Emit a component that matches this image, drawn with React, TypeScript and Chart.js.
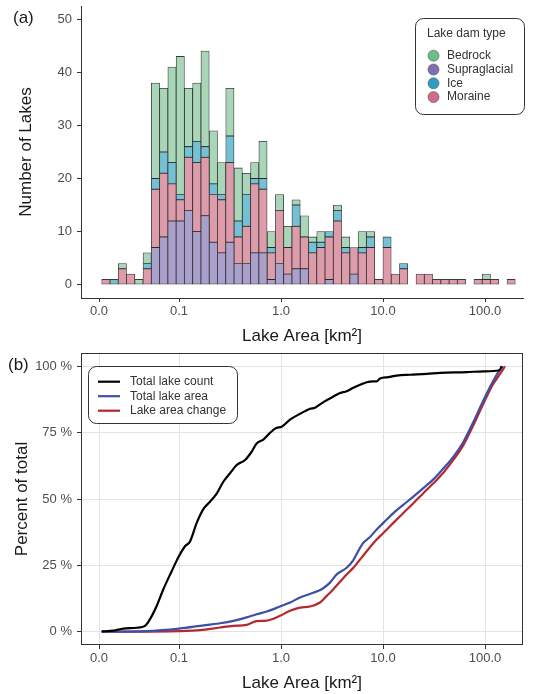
import React, { useEffect, useRef } from "react";
import { Chart, registerables } from "chart.js";

Chart.register(...registerables);

const FONT = "'Liberation Sans', Arial, Helvetica, sans-serif";

// ---------- Panel (a): histogram, 50 log-spaced bins (bin centres, km²) ----------
const binCenters = [
  0.01916, 0.0231, 0.02784, 0.03355, 0.04044, 0.04873, 0.05875, 0.07081, 0.08535, 0.1029,
  0.124, 0.1494, 0.1801, 0.2171, 0.2617, 0.3154, 0.3802, 0.4582, 0.5523, 0.6657,
  0.8024, 0.9672, 1.1657, 1.4051, 1.6935, 2.0412, 2.4604, 2.9653, 3.5745, 4.3082,
  5.1929, 6.2589, 7.5442, 9.093, 10.959, 13.21, 15.922, 19.19, 23.131, 27.88,
  33.604, 40.503, 48.818, 58.841, 70.925, 85.485, 103.04, 124.19, 149.69, 180.43,
];
const supraglacial = [
  0, 0, 0, 0, 0, 0, 7, 9, 12, 12, 14, 10, 13, 8, 6, 8, 4, 4, 6, 6,
  1, 4, 2, 3, 3, 0, 0, 1, 0, 0, 2, 0, 0, 0, 0, 0, 0, 0, 0, 0,
  0, 0, 0, 0, 0, 0, 0, 0, 0, 0,
];
const moraine = [
  1, 0, 3, 2, 0, 3, 11, 12, 7, 4, 10, 13, 11, 9, 10, 15, 5, 7, 13, 12,
  5, 10, 5, 8, 6, 6, 7, 8, 12, 6, 5, 6, 7, 1, 7, 2, 3, 0, 2, 2,
  1, 1, 1, 1, 0, 1, 1, 1, 0, 1,
];
const ice = [
  0, 1, 0, 0, 0, 1, 2, 4, 4, 1, 2, 4, 2, 2, 1, 5, 3, 6, 1, 2,
  1, 0, 0, 4, 0, 2, 1, 1, 2, 1, 0, 1, 2, 0, 2, 0, 1, 0, 0, 0,
  0, 0, 0, 0, 0, 0, 0, 0, 0, 0,
];
const bedrock = [
  0, 0, 1, 0, 1, 2, 18, 12, 18, 26, 11, 11, 18, 10, 6, 9, 10, 4, 3, 7,
  3, 3, 4, 1, 4, 1, 2, 0, 1, 2, 0, 3, 1, 0, 0, 0, 0, 0, 0, 0,
  0, 0, 0, 0, 0, 0, 1, 0, 0, 0,
];
const countTicks = [0, 10, 20, 30, 40, 50];

// ---------- Panel (b): cumulative curves ----------
const countX = [
  0.01745, 0.02271, 0.02846, 0.03846, 0.04642, 0.05004, 0.06039, 0.07021, 0.08475, 0.1,
  0.1145, 0.1282, 0.149, 0.1732, 0.2013, 0.2341, 0.272, 0.3162, 0.3676, 0.4437,
  0.5158, 0.5772, 0.6711, 0.7802, 0.9069, 1.015, 1.225, 1.536, 1.925, 2.154,
  2.6, 3.26, 3.788, 4.404, 5.12, 5.951, 6.918, 8.037, 8.667, 9.346,
  11.28, 13.61, 18.4, 26.8, 36.22, 66.12, 96.31, 138.2, 145.7,
];
const countPct = [
  0.1, 0.4, 1.2, 1.5, 2.2, 3.7, 9.7, 16, 22.8, 28.5,
  32.2, 34, 41, 46.2, 49, 52, 56.5, 59.7, 62.8, 64.7,
  67.8, 70.9, 72.4, 74.9, 76.8, 77.2, 79.9, 82.1, 84, 84.4,
  86.5, 88.6, 89.9, 90.6, 91.9, 93, 94, 94.3, 94.3, 95.4,
  95.9, 96.5, 96.8, 97.1, 97.5, 97.8, 98.1, 98.5, 100,
];
const areaX = [
  0.01745, 0.04819, 0.1, 0.1607, 0.2523, 0.341, 0.4607, 0.5772, 0.7236, 0.9777,
  1.225, 1.536, 2.075, 2.504, 3.023, 3.514, 4.404, 5.12, 5.951, 6.416,
  7.456, 8.667, 10.08, 12.63, 15.82, 19.84, 24.86, 31.15, 39.04, 48.92,
  61.33, 76.85, 96.31, 116.3, 135.1, 149.0,
];
const areaPct = [
  0, 0.25, 1.2, 2.2, 3.2, 4.1, 5.4, 6.6, 7.6, 9.5,
  11, 12.9, 14.7, 16, 18.5, 21.6, 24.1, 27, 31.6, 33.5,
  35.7, 38.5, 41, 44.7, 47.8, 50.9, 54.1, 57.4, 61.5, 65.9,
  71.5, 79, 87.1, 93.4, 97.8, 100,
];
const changeX = [
  0.01745, 0.1, 0.1607, 0.2523, 0.341, 0.4607, 0.5772, 0.7236, 0.9777, 1.225,
  1.536, 1.925, 2.412, 2.804, 3.26, 4.404, 5.12, 5.951, 6.918, 8.667,
  10.08, 12.63, 15.82, 19.84, 24.86, 31.15, 39.04, 48.92, 61.33, 76.85,
  96.31, 120.7, 140.3, 157.1,
];
const changePct = [
  0, 0.25, 0.6, 1.6, 2.2, 2.6, 4, 4.2, 6, 7.9,
  9.1, 9.5, 11, 13.5, 16, 21.6, 24.1, 27.2, 30.3, 34.7,
  37.2, 41, 44.7, 48.4, 52.2, 55.9, 59.9, 64.7, 70.3, 77.8,
  85.9, 93.4, 97.1, 100,
];
const pctTicks = [0, 25, 50, 75, 100];

// shared x axis ticks (km²) — first break sits at the data minimum, printed "0.0"
const areaTicks = [0.01644, 0.1, 1, 10, 100];
const X_MIN = 0.01094;
const X_MAX = 235.8;

const C = {
  bedrockFill: "#a9d5b8",
  supraFill: "#aaa0cc",
  iceFill: "#74c0d5",
  moraineFill: "#de9cab",
  bedrockDot: "#6dbd8c",
  supraDot: "#7c70b3",
  iceDot: "#2f9dc2",
  moraineDot: "#d06c86",
  axis: "#333333",
  tickText: "#4d4d4d",
  title: "#1a1a1a",
  grid: "#e3e3e3",
};

const nz = (arr: number[]) => arr.map((v, i) => ({ x: binCenters[i], y: v === 0 ? null : v }));
const pts = (xs: number[], ys: number[]) => xs.map((x, i) => ({ x, y: ys[i] }));

const xAxis = (showGrid: boolean) => ({
  type: "logarithmic" as const,
  min: X_MIN,
  max: X_MAX,
  offset: false,
  afterBuildTicks: (s: any) => {
    s.ticks = areaTicks.map((v) => ({ value: v }));
  },
  afterFit: (s: any) => {
    s.height = 49;
    s.paddingLeft = 0;
    s.paddingRight = 0;
  },
  ticks: {
    autoSkip: false,
    maxRotation: 0,
    padding: 2,
    color: C.tickText,
    font: { family: FONT, size: 13 },
    callback: (v: any) => (Number(v) < 0.05 ? "0.0" : Number(v).toFixed(1)),
  },
  grid: {
    display: true,
    drawOnChartArea: showGrid,
    offset: false,
    color: C.grid,
    tickColor: C.axis,
    tickLength: 4,
    lineWidth: 1,
  },
  border: { display: !showGrid, color: C.axis, width: 1 },
  title: {
    display: true,
    text: "Lake Area [km²]",
    color: C.title,
    font: { family: FONT, size: 17 },
    padding: { top: 0, bottom: 0 },
  },
});

const textPlugin = (label: string, lx: number, ly: number) => ({
  id: "panelLabel",
  afterDraw(chart: any) {
    const ctx = chart.ctx;
    ctx.save();
    ctx.fillStyle = "#1a1a1a";
    ctx.font = `17px ${FONT}`;
    ctx.textAlign = "left";
    ctx.textBaseline = "middle";
    ctx.fillText(label, lx, ly);
    ctx.restore();
  },
});

const legendA = {
  id: "legendA",
  afterDraw(chart: any) {
    const ctx = chart.ctx;
    ctx.save();
    ctx.beginPath();
    ctx.roundRect(415.5, 18.5, 109, 96, 8);
    ctx.fillStyle = "#ffffff";
    ctx.fill();
    ctx.strokeStyle = "#333333";
    ctx.lineWidth = 1;
    ctx.stroke();
    ctx.fillStyle = "#333333";
    ctx.font = `12px ${FONT}`;
    ctx.textBaseline = "middle";
    ctx.textAlign = "left";
    ctx.fillText("Lake dam type", 427, 33.5);
    const order = ["Bedrock", "Supraglacial", "Ice", "Moraine"];
    const rows = [55.7, 69.5, 83.3, 97.1];
    order.forEach((name, i) => {
      const ds = chart.data.datasets.find((d: any) => d.label === name);
      ctx.beginPath();
      ctx.arc(433.5, rows[i], 5.5, 0, Math.PI * 2);
      ctx.fillStyle = ds.dotColor;
      ctx.fill();
      ctx.strokeStyle = "#555";
      ctx.lineWidth = 0.6;
      ctx.stroke();
      ctx.fillStyle = "#333333";
      ctx.fillText(name, 447, rows[i]);
    });
    ctx.restore();
  },
};

const legendB = {
  id: "legendB",
  afterDraw(chart: any) {
    const ctx = chart.ctx;
    ctx.save();
    ctx.beginPath();
    ctx.roundRect(88.5, 19.5, 149, 57, 8);
    ctx.fillStyle = "#ffffff";
    ctx.fill();
    ctx.strokeStyle = "#333333";
    ctx.lineWidth = 1;
    ctx.stroke();
    const rows = [34.7, 49.2, 63.7];
    chart.data.datasets.forEach((ds: any, i: number) => {
      ctx.beginPath();
      ctx.moveTo(98, rows[i]);
      ctx.lineTo(120, rows[i]);
      ctx.strokeStyle = ds.borderColor;
      ctx.lineWidth = 2.2;
      ctx.stroke();
      ctx.fillStyle = "#333333";
      ctx.font = `12px ${FONT}`;
      ctx.textBaseline = "middle";
      ctx.textAlign = "left";
      ctx.fillText(ds.label, 130, rows[i]);
    });
    ctx.restore();
  },
};

const boxPlugin = {
  id: "boxB",
  afterDatasetsDraw(chart: any) {
    const { left, right, top, bottom } = chart.chartArea;
    const ctx = chart.ctx;
    ctx.save();
    ctx.strokeStyle = C.axis;
    ctx.lineWidth = 1;
    ctx.strokeRect(Math.round(left) + 0.5, Math.round(top) + 0.5, Math.round(right - left) - 1, Math.round(bottom - top) - 1);
    ctx.restore();
  },
};

const yFit = (s: any) => {
  s.width = 81;
  s.paddingTop = 0;
  s.paddingBottom = 0;
};

export default function App() {
  const refA = useRef<HTMLCanvasElement>(null);
  const refB = useRef<HTMLCanvasElement>(null);

  useEffect(() => {
    const barStyle = { borderColor: "rgba(25,25,25,0.85)", borderWidth: 0.8, borderSkipped: false as const };
    const chartA = new Chart(refA.current!, {
      type: "bar",
      data: {
        datasets: [
          { label: "Supraglacial", data: nz(supraglacial), backgroundColor: C.supraFill, dotColor: C.supraDot, ...barStyle } as any,
          { label: "Moraine", data: nz(moraine), backgroundColor: C.moraineFill, dotColor: C.moraineDot, ...barStyle } as any,
          { label: "Ice", data: nz(ice), backgroundColor: C.iceFill, dotColor: C.iceDot, ...barStyle } as any,
          { label: "Bedrock", data: nz(bedrock), backgroundColor: C.bedrockFill, dotColor: C.bedrockDot, ...barStyle } as any,
        ],
      },
      options: {
        responsive: false,
        animation: false,
        layout: { padding: { left: 0, right: 11, top: 6, bottom: 0 } },
        datasets: { bar: { barPercentage: 1, categoryPercentage: 1 } },
        plugins: { legend: { display: false }, tooltip: { enabled: false } },
        scales: {
          x: { ...xAxis(false), stacked: true } as any,
          y: {
            type: "linear",
            stacked: true,
            min: -2.5,
            max: 52.5,
            afterBuildTicks: (s: any) => {
              s.ticks = countTicks.map((v) => ({ value: v }));
            },
            afterFit: yFit,
            ticks: { padding: 5, color: C.tickText, font: { family: FONT, size: 13 } },
            grid: { display: true, drawOnChartArea: false, tickColor: C.axis, tickLength: 4 },
            border: { display: true, color: C.axis, width: 1 },
            title: {
              display: true,
              text: "Number of Lakes",
              color: C.title,
              font: { family: FONT, size: 17 },
              padding: { top: 16, bottom: 0 },
            },
          } as any,
        },
      },
      plugins: [textPlugin("(a)", 13, 18), legendA],
    });

    const lineStyle = { pointRadius: 0, borderWidth: 2.2, cubicInterpolationMode: "monotone" as const, fill: false };
    const chartB = new Chart(refB.current!, {
      type: "line",
      data: {
        datasets: [
          { label: "Total lake count", data: pts(countX, countPct), borderColor: "#000000", ...lineStyle },
          { label: "Total lake area", data: pts(areaX, areaPct), borderColor: "#3d4fa6", ...lineStyle },
          { label: "Lake area change", data: pts(changeX, changePct), borderColor: "#b5282e", ...lineStyle },
        ],
      },
      options: {
        responsive: false,
        animation: false,
        layout: { padding: { left: 0, right: 11, top: 6, bottom: 0 } },
        plugins: { legend: { display: false }, tooltip: { enabled: false } },
        scales: {
          x: xAxis(true) as any,
          y: {
            type: "linear",
            min: -5,
            max: 105,
            afterBuildTicks: (s: any) => {
              s.ticks = pctTicks.map((v) => ({ value: v }));
            },
            afterFit: yFit,
            ticks: {
              padding: 5,
              color: C.tickText,
              font: { family: FONT, size: 13 },
              callback: (v: any) => `${v} %`,
            },
            grid: { display: true, color: C.grid, tickColor: C.axis, tickLength: 4, lineWidth: 1 },
            border: { display: false },
            title: {
              display: true,
              text: "Percent of total",
              color: C.title,
              font: { family: FONT, size: 17 },
              padding: { top: 12, bottom: 0 },
            },
          } as any,
        },
      },
      plugins: [boxPlugin, textPlugin("(b)", 8, 18), legendB],
    });

    return () => {
      chartA.destroy();
      chartB.destroy();
    };
  }, []);

  return (
    <div style={{ position: "fixed", left: 0, top: 0, width: 534, height: 694, background: "#ffffff" }}>
      <canvas ref={refA} width={534} height={347} style={{ position: "absolute", left: 0, top: 0, display: "block" }} />
      <canvas ref={refB} width={534} height={347} style={{ position: "absolute", left: 0, top: 347, display: "block" }} />
    </div>
  );
}
